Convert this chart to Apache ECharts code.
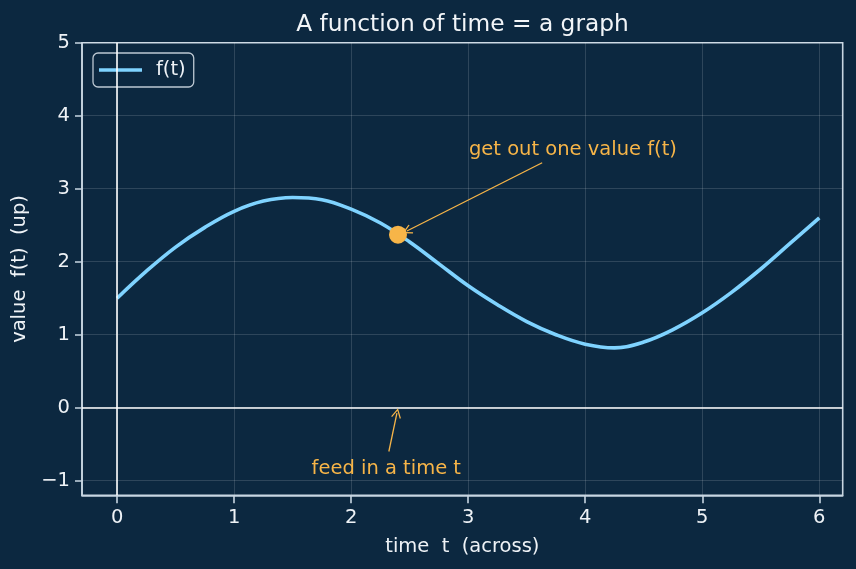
<!DOCTYPE html>
<html lang="en">
<head>
<meta charset="utf-8">
<title>A function of time = a graph</title>
<script src="https://cdn.jsdelivr.net/npm/echarts@6/dist/echarts.min.js"></script>
<style>
html, body {margin: 0; padding: 0; background: #0c2840;}
#main {width: 856px; height: 569px;}
</style>
</head>
<body>
<div id="main"></div>
<script>
// curve, every 0.25 in t
var timeT  = [0, 0.25, 0.5, 0.75, 1, 1.25, 1.5, 1.75, 2, 2.25, 2.5, 2.75, 3,
              3.25, 3.5, 3.75, 4, 4.25, 4.5, 4.75, 5, 5.25, 5.5, 5.75, 6];
var valueF = [1.50, 1.87, 2.20, 2.47, 2.69, 2.83, 2.88, 2.85, 2.72, 2.53, 2.27, 1.97, 1.67,
              1.41, 1.18, 1.00, 0.87, 0.82, 0.90, 1.07, 1.30, 1.58, 1.90, 2.25, 2.60];

var xTicks = [0, 1, 2, 3, 4, 5, 6];
var yTicks = [-1, 0, 1, 2, 3, 4, 5];

// the one sampled point and its notes
var samplePoint = [2.4, 2.37];
var arrowOut = [[3.632, 3.356], [2.476, 2.42]];
var arrowIn  = [[2.322, -0.60], [2.391, -0.073]];
var noteOut = [3.895, 3.53];
var noteIn  = [2.30, -0.84];

var FONT = 'DejaVu Sans';
var TXT = '#eef2f6';
var ORANGE = '#f7b548';
var BLUE = '#7fd3ff';
var SPINE = '#c8d6e2';

var chevron = 'path://M5,0 L10,9 L8.9,9.7 L5,2.6 L1.1,9.7 L0,9 Z';

var chart = echarts.init(document.getElementById('main'));

chart.setOption({
    animation: false,
    backgroundColor: '#0c2840',
    graphic: [{
        type: 'text',
        x: 462.5,
        y: 25,
        style: {
            text: 'A function of time = a graph',
            fill: '#f2f5f8',
            fontSize: 23.3,
            fontFamily: FONT,
            align: 'center',
            verticalAlign: 'middle'
        }
    }],
    legend: {
        data: [{name: 'f(t)', icon: 'rect'}],
        left: 93,
        top: 53,
        padding: [7, 8, 7, 6],
        itemWidth: 43,
        itemHeight: 3.6,
        selectedMode: false,
        borderColor: 'rgba(220,228,236,0.85)',
        borderWidth: 1.3,
        borderRadius: 5,
        backgroundColor: 'rgba(12,40,64,0.8)',
        itemStyle: {color: BLUE},
        textStyle: {color: TXT, fontSize: 19.5, fontFamily: FONT, padding: [0, 0, 0, 9]}
    },
    grid: {
        left: 82, right: 13.3, top: 42.7, bottom: 73.7,
        show: true,
        borderColor: SPINE,
        borderWidth: 1.6
    },
    xAxis: {
        type: 'value',
        min: -0.3,
        max: 6.2,
        axisLine: {show: true, onZero: false, lineStyle: {color: SPINE, width: 1.6}},
        axisTick: {show: true, inside: false, length: 8, customValues: xTicks, lineStyle: {color: SPINE, width: 1.6}},
        axisLabel: {customValues: xTicks, margin: 13, color: TXT, fontSize: 19.5, fontFamily: FONT},
        splitLine: {lineStyle: {color: 'rgba(255,255,255,0.18)', width: 0.8}},
        name: 'time  t  (across)',
        nameLocation: 'middle',
        nameGap: 42,
        nameTextStyle: {color: TXT, fontSize: 19.5, fontFamily: FONT}
    },
    yAxis: {
        type: 'value',
        min: -1.2,
        max: 5,
        axisLine: {show: true, onZero: false, lineStyle: {color: SPINE, width: 1.6}},
        axisTick: {show: true, inside: false, length: 7, customValues: yTicks, lineStyle: {color: SPINE, width: 1.5}},
        axisLabel: {
            customValues: yTicks, margin: 12, color: TXT, fontSize: 19.5, fontFamily: FONT,
            formatter: function (v) { return v < 0 ? '\u2212' + Math.abs(v) : String(v); }
        },
        splitLine: {lineStyle: {color: 'rgba(255,255,255,0.18)', width: 0.8}},
        name: 'value  f(t)  (up)',
        nameLocation: 'middle',
        nameRotate: 90,
        nameGap: 42,
        nameTextStyle: {color: TXT, fontSize: 19.5, fontFamily: FONT}
    },
    series: [{
        // zero lines under everything
        name: 'zero',
        type: 'line',
        data: [],
        silent: true,
        markLine: {
            silent: true,
            symbol: ['none', 'none'],
            label: {show: false},
            lineStyle: {color: '#ffffff', width: 1.6, type: 'solid'},
            data: [{xAxis: 0}, {yAxis: 0}]
        }
    }, {
        name: 'f(t)',
        type: 'line',
        data: timeT.map(function (t, i) { return [t, valueF[i]]; }),
        smooth: 0.4,
        symbol: 'none',
        color: BLUE,
        lineStyle: {color: BLUE, width: 3.6}
    }, {
        name: 'sample',
        type: 'scatter',
        data: [samplePoint],
        symbolSize: 18,
        itemStyle: {color: ORANGE, opacity: 1},
        z: 5,
        markLine: {
            silent: true,
            symbol: ['none', chevron],
            symbolSize: [10, 10],
            label: {show: false},
            lineStyle: {color: ORANGE, width: 1.3, type: 'solid'},
            data: [
                [{coord: arrowOut[0]}, {coord: arrowOut[1]}],
                [{coord: arrowIn[0]}, {coord: arrowIn[1]}]
            ]
        },
        markPoint: {
            silent: true,
            symbol: 'circle',
            symbolSize: 1,
            itemStyle: {color: 'rgba(0,0,0,0)'},
            label: {
                show: true,
                position: 'inside',
                color: ORANGE,
                fontSize: 19.5,
                fontFamily: FONT,
                formatter: function (p) { return p.name; }
            },
            data: [
                {name: 'get out one value f(t)', coord: noteOut},
                {name: 'feed in a time t', coord: noteIn}
            ]
        }
    }]
});
</script>
</body>
</html>
